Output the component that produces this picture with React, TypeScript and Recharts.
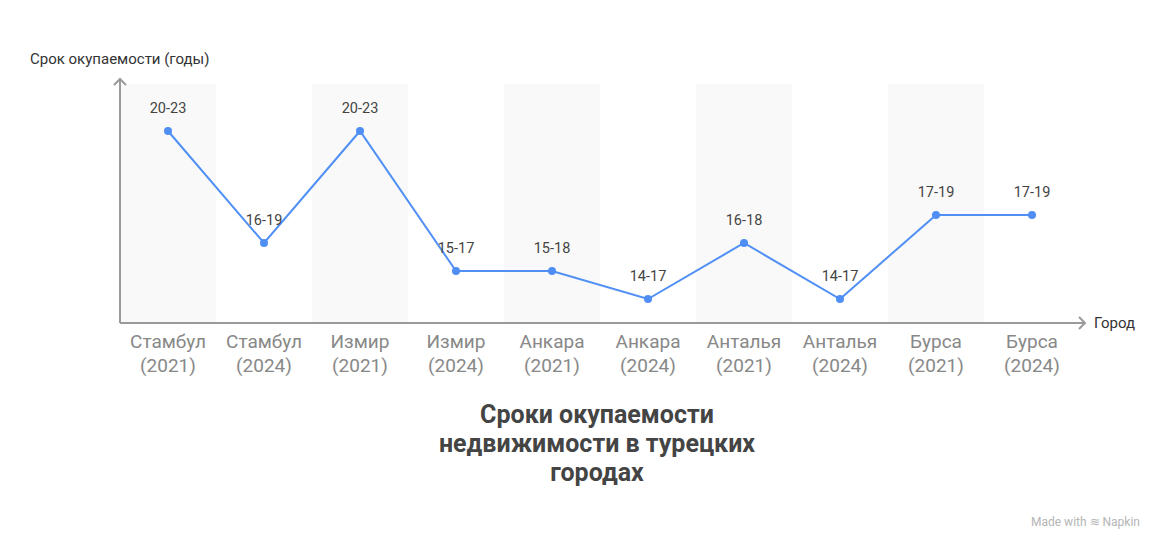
import React from "react";
import { ComposedChart, Line, XAxis, YAxis, ReferenceArea, LabelList } from "recharts";

const cities = ["Стамбул", "Стамбул", "Измир", "Измир", "Анкара", "Анкара", "Анталья", "Анталья", "Бурса", "Бурса"];
const years = ["2021", "2024", "2021", "2024", "2021", "2024", "2021", "2024", "2021", "2024"];
const lowerYears = [20, 16, 20, 15, 15, 14, 16, 14, 17, 17];
const rangeLabels = ["20-23", "16-19", "20-23", "15-17", "15-18", "14-17", "16-18", "14-17", "17-19", "17-19"];

const data = cities.map((c, i) => ({
  key: `${c} (${years[i]})`,
  city: c,
  year: years[i],
  value: lowerYears[i],
  label: rangeLabels[i],
}));

const shadedKeys = data.filter((_, i) => i % 2 === 0).map((d) => d.key);

const AXIS = "#9a9a9a";
const FONT = "Roboto, 'Noto Sans', sans-serif";

const CategoryTick = (props: any) => {
  const { x, y, payload } = props;
  const idx = data.findIndex((d) => d.key === payload.value);
  const d = data[idx];
  return (
    <text x={x} y={y} textAnchor="middle" fill="#888888" fontSize={19} fontFamily={FONT}>
      <tspan x={x} dy={17}>{d ? d.city : ""}</tspan>
      <tspan x={x} dy={24}>{d ? `(${d.year})` : ""}</tspan>
    </text>
  );
};

const XArrowLabel = (props: any) => {
  const vb = props.viewBox || {};
  const x2 = vb.x + vb.width;
  const y = vb.y;
  return (
    <g>
      <line x1={x2} y1={y} x2={x2 + 5} y2={y} stroke={AXIS} strokeWidth={2} />
      <polyline points={`${x2 - 1},${y - 6} ${x2 + 5},${y} ${x2 - 1},${y + 6}`} fill="none" stroke={AXIS} strokeWidth={2} />
      <text x={x2 + 14} y={y + 5} fontSize={15} fill="#333333" fontFamily={FONT}>Город</text>
    </g>
  );
};

const YArrowLabel = (props: any) => {
  const vb = props.viewBox || {};
  const x = vb.x + vb.width;
  const y = vb.y;
  return (
    <g>
      <polyline points={`${x - 6},${y + 6} ${x},${y} ${x + 6},${y + 6}`} fill="none" stroke={AXIS} strokeWidth={2} />
      <text x={30} y={y - 15} fontSize={15} fill="#333333" fontFamily={FONT}>Срок окупаемости (годы)</text>
    </g>
  );
};

export default function App() {
  return (
    <div style={{ position: "absolute", left: 0, top: 0, width: 1164, height: 550, background: "#fff" }}>
      <ComposedChart
        width={1164}
        height={550}
        data={data}
        margin={{ top: 79, right: 84, bottom: 167, left: 118 }}
      >
        {shadedKeys.map((k) => (
          <ReferenceArea key={k} x1={k} x2={k} y1={13.143} y2={21.679} fill="#f9f9f9" fillOpacity={1} stroke="none" ifOverflow="hidden" />
        ))}
        <XAxis
          dataKey="key"
          type="category"
          scale="band"
          interval={0}
          height={60}
          tickLine={false}
          axisLine={{ stroke: AXIS, strokeWidth: 2 }}
          tick={<CategoryTick />}
          label={<XArrowLabel />}
        />
        <YAxis
          type="number"
          domain={[13.143, 21.857]}
          allowDataOverflow
          width={2}
          tick={false}
          tickLine={false}
          axisLine={{ stroke: AXIS, strokeWidth: 2 }}
          label={<YArrowLabel />}
        />
        <Line
          dataKey="value"
          type="linear"
          stroke="#5090f5"
          strokeWidth={2}
          dot={{ r: 4, fill: "#4f8ef5", stroke: "none" }}
          activeDot={false}
          isAnimationActive={false}
        >
          <LabelList dataKey="label" position="top" offset={18} fontSize={14.5} fill="#444444" fontFamily={FONT} />
        </Line>
      </ComposedChart>
      <div
        style={{
          position: "absolute",
          left: 0,
          width: 1194,
          top: 400,
          textAlign: "center",
          fontFamily: FONT,
          fontWeight: 700,
          fontSize: 25,
          lineHeight: "29px",
          color: "#444444",
        }}
      >
        Сроки окупаемости
        <br />
        недвижимости в турецких
        <br />
        городах
      </div>
      <div
        style={{
          position: "absolute",
          right: 24,
          top: 515,
          fontFamily: FONT,
          fontSize: 12,
          color: "#b5b5b5",
        }}
      >
        Made with ≋ Napkin
      </div>
    </div>
  );
}
